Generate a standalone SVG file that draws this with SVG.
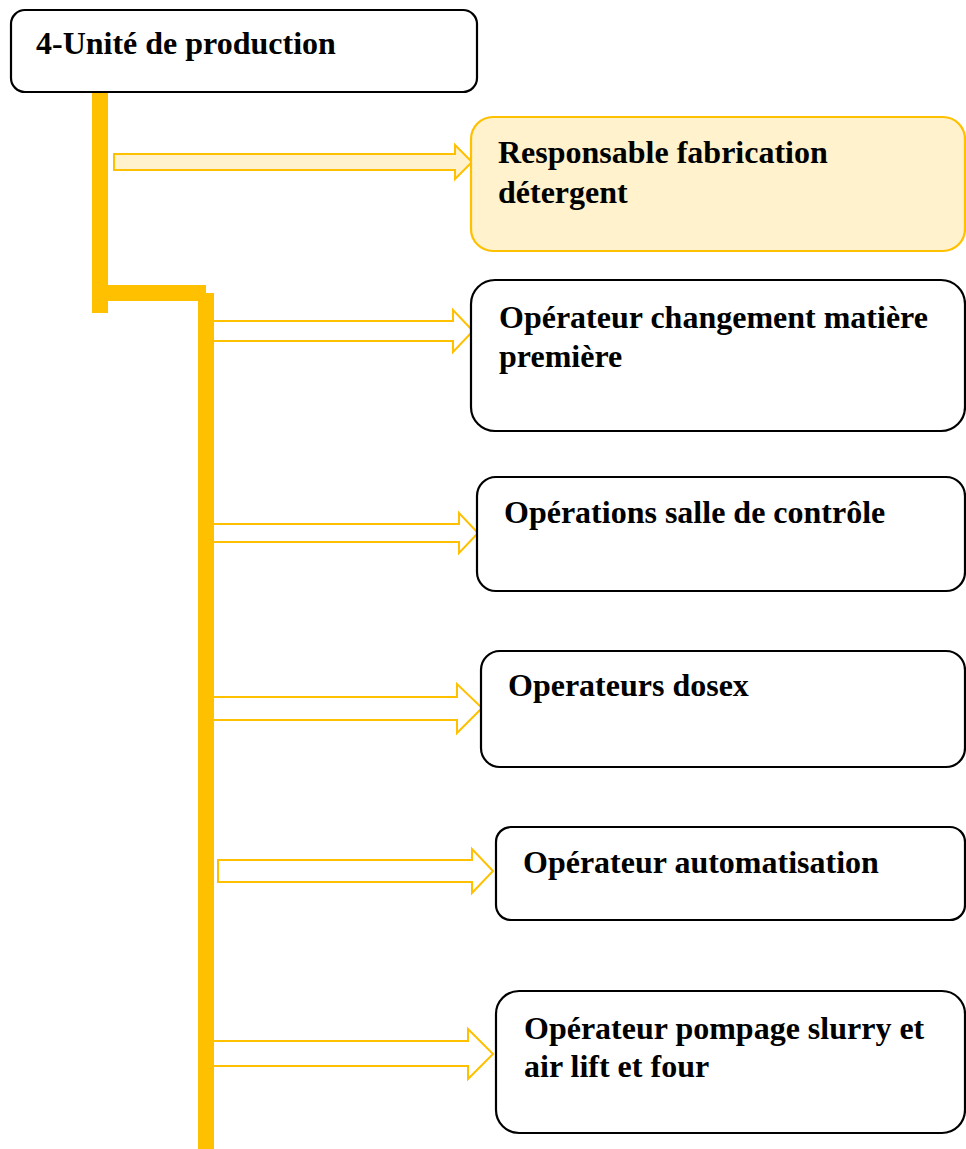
<svg xmlns="http://www.w3.org/2000/svg" width="966" height="1149" viewBox="0 0 966 1149">
  <style>
    .box { fill: #ffffff; stroke: #000000; stroke-width: 2.2; }
    .box-hl { fill: #FFF2CC; stroke: #FFC000; stroke-width: 2.2; }
    .lbl { font-family: "Liberation Serif", "Times New Roman", serif; font-weight: bold; font-size: 32px; fill: #000000; }
    .bar { fill: #FFC000; }
    .arrow { fill: #ffffff; stroke: #FFC000; stroke-width: 2; stroke-linejoin: miter; }
    .arrow-hl { fill: #FFF2CC; stroke: #FFC000; stroke-width: 2; }
  </style>
  <rect width="966" height="1149" fill="#ffffff"/>

  <!-- trunk and branch bars, plus block arrows -->
  <g id="connectors">
    <rect class="bar" x="92" y="89" width="16" height="224"/>
    <rect class="bar" x="92" y="285" width="114" height="16"/>
    <rect class="bar" x="198" y="293" width="16" height="856"/>

    <polygon class="arrow-hl" points="114,154 455,154 455,145 472,162 455,179 455,170 114,170 114,154"/>
    <polyline class="arrow" points="214,321 453,321 453,310 473,331 453,352 453,341 214,341"/>
    <polyline class="arrow" points="214,524 459,524 459,513 478,533 459,553 459,542 214,542"/>
    <polyline class="arrow" points="214,697 457,697 457,684 482,708 457,733 457,720 214,720"/>
    <polygon class="arrow" points="218,860 472,860 472,849 493,871 472,893 472,882 218,882"/>
    <polyline class="arrow" points="214,1041 468,1041 468,1029 493,1054 468,1079 468,1066 214,1066"/>
  </g>

  <g id="node-unite">
    <rect class="box" x="11" y="10" width="466" height="82" rx="14"/>
    <text class="lbl" x="36" y="54">4-Unité de production</text>
  </g>

  <g id="node-responsable">
    <rect class="box-hl" x="471" y="117" width="494" height="134" rx="22"/>
    <text class="lbl" x="498" y="163">Responsable fabrication</text>
    <text class="lbl" x="498" y="203">détergent</text>
  </g>

  <g id="node-matiere">
    <rect class="box" x="471" y="280" width="494" height="151" rx="24"/>
    <text class="lbl" x="499" y="328">Opérateur changement matière</text>
    <text class="lbl" x="499" y="367">première</text>
  </g>

  <g id="node-controle">
    <rect class="box" x="477" y="477" width="488" height="114" rx="19"/>
    <text class="lbl" x="504" y="523">Opérations salle de contrôle</text>
  </g>

  <g id="node-dosex">
    <rect class="box" x="481" y="651" width="484" height="116" rx="19"/>
    <text class="lbl" x="508" y="696">Operateurs dosex</text>
  </g>

  <g id="node-automatisation">
    <rect class="box" x="496" y="827" width="469" height="93" rx="15"/>
    <text class="lbl" x="523" y="873">Opérateur automatisation</text>
  </g>

  <g id="node-pompage">
    <rect class="box" x="496" y="991" width="469" height="142" rx="23"/>
    <text class="lbl" x="524" y="1039">Opérateur pompage slurry et</text>
    <text class="lbl" x="524" y="1077">air lift et four</text>
  </g>
</svg>
